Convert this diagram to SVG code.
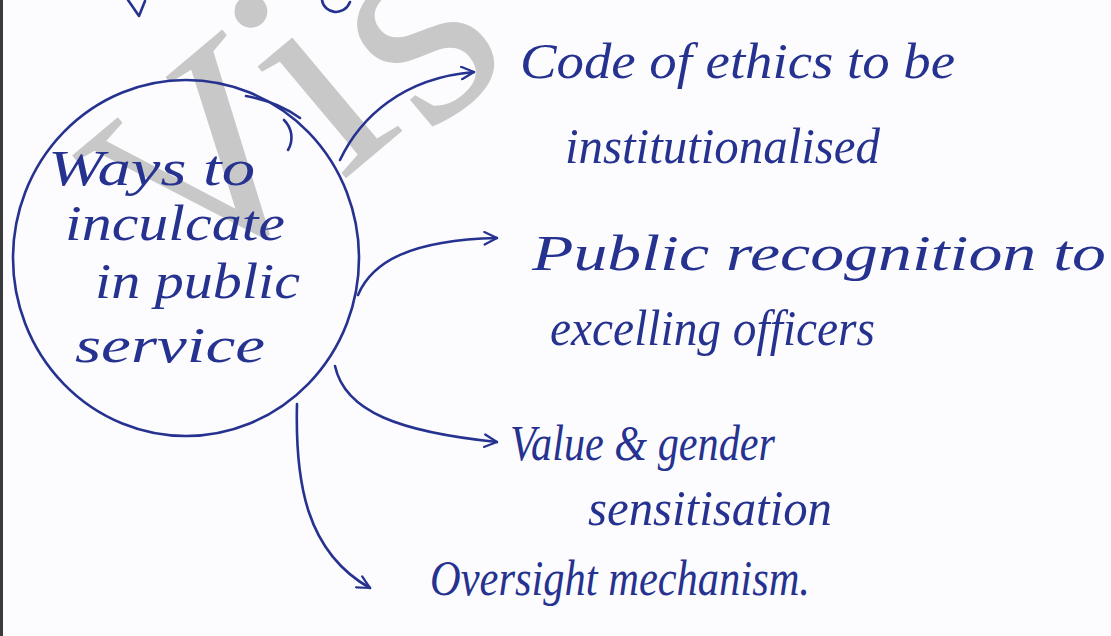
<svg xmlns="http://www.w3.org/2000/svg" width="1111" height="636" viewBox="0 0 1111 636">
<style>
.ink{fill:none;stroke:#26328f;stroke-width:2.6;stroke-linecap:round;stroke-linejoin:round}
.hw{font-family:"Liberation Serif","DejaVu Serif",serif;font-style:italic;fill:#26328f;font-size:50px}
.wm{font-family:"Liberation Serif","DejaVu Serif",serif;fill:#c8c8c8;font-size:310px}
</style>
<defs>
<marker id="arr" viewBox="0 0 12 12" refX="11" refY="6" markerWidth="15" markerHeight="15" markerUnits="userSpaceOnUse" orient="auto">
<path d="M1,1 L11,6 L1,11" fill="none" stroke="#26328f" stroke-width="1.8" stroke-linecap="round" stroke-linejoin="round"/>
</marker>
</defs>
<rect width="1111" height="636" fill="#fcfcfe"/>
<rect x="0" y="0" width="3" height="636" fill="#3a3a3a"/>
<g id="watermark">
<text class="wm" style="font-size:280px" text-anchor="middle" transform="translate(265 233) rotate(-40) scale(-1 1)" x="0" y="0">V</text>
<text class="wm" transform="translate(262 233) rotate(-40)"><tspan x="93" y="12">i</tspan><tspan x="186" y="32">s</tspan></text>
</g>
<g id="fragments">
<path class="ink" d="M128,0 L139,16 L145,1"/>
<path class="ink" d="M322,0 C324,14 344,17 350,2"/>
</g>
<g id="connectors">
<path class="ink" d="M340,160 C360,118 402,78 474,72" marker-end="url(#arr)"/>
<path class="ink" d="M358,295 C372,262 410,240 497,238" marker-end="url(#arr)"/>
<path class="ink" d="M335,366 C345,412 400,432 497,442" marker-end="url(#arr)"/>
<path class="ink" d="M297,404 C295,482 306,552 370,588" marker-end="url(#arr)"/>
</g>
<g id="center">
<ellipse class="ink" cx="186" cy="258" rx="173" ry="178"/>
<path class="ink" d="M246,96 C268,100 286,108 300,118"/>
<path class="ink" d="M284,120 C292,128 294,140 288,150"/>
<text class="hw" x="48" y="185" textLength="207" lengthAdjust="spacingAndGlyphs">Ways to</text>
<text class="hw" x="65" y="240" textLength="220" lengthAdjust="spacingAndGlyphs">inculcate</text>
<text class="hw" x="95" y="298" textLength="205" lengthAdjust="spacingAndGlyphs">in public</text>
<text class="hw" x="75" y="362" textLength="190" lengthAdjust="spacingAndGlyphs">service</text>
</g>
<g id="n1">
<text class="hw" x="520" y="78" textLength="435" lengthAdjust="spacingAndGlyphs">Code of ethics to be</text>
<text class="hw" x="565" y="163" textLength="315" lengthAdjust="spacingAndGlyphs">institutionalised</text>
</g>
<g id="n2">
<text class="hw" x="532" y="270" textLength="574" lengthAdjust="spacingAndGlyphs">Public recognition to</text>
<text class="hw" x="550" y="345" textLength="325" lengthAdjust="spacingAndGlyphs">excelling officers</text>
</g>
<g id="n3">
<text class="hw" x="510" y="460" textLength="265" lengthAdjust="spacingAndGlyphs">Value &amp; gender</text>
<text class="hw" x="588" y="525" textLength="244" lengthAdjust="spacingAndGlyphs">sensitisation</text>
</g>
<g id="n4">
<text class="hw" x="430" y="595" textLength="380" lengthAdjust="spacingAndGlyphs">Oversight mechanism.</text>
</g>
</svg>
